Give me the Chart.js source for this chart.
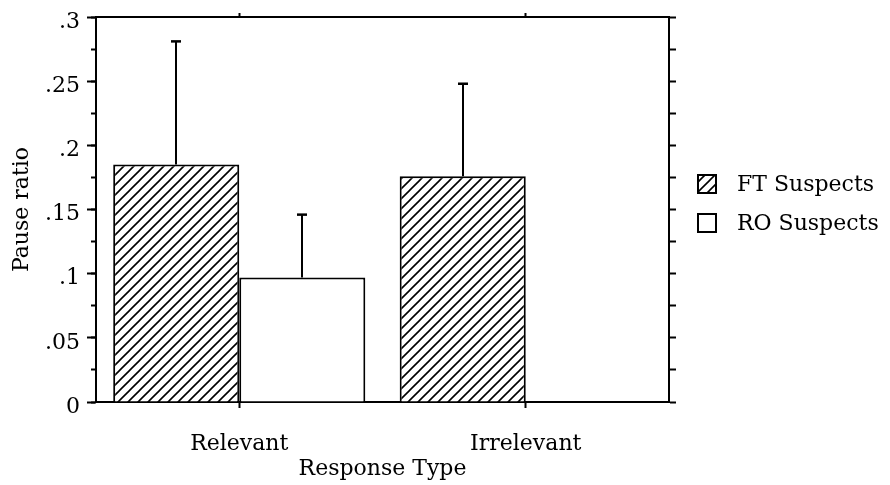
<!DOCTYPE html>
<html>
<head>
<meta charset="utf-8">
<script src="https://cdn.jsdelivr.net/npm/chart.js@4/dist/chart.umd.min.js"></script>
<style>
  html, body { margin: 0; padding: 0; background: #fff; }
</style>
</head>
<body>
<canvas id="c" width="890" height="485"></canvas>
<script>
// Mean pause ratio per response type, with upward standard-error whiskers
const categories = ['Relevant', 'Irrelevant'];
const seriesNames = ['FT Suspects', 'RO Suspects'];
const ftMeans = [0.185, 0.176];
const roMeans = [0.097, null];
const ftErrors = [0.096, 0.072];
const roErrors = [0.049, null];
const yTickLabels = ['0', '.05', '.1', '.15', '.2', '.25', '.3'];

const FONT = '"DejaVu Serif", "Liberation Serif", serif';
const canvas = document.getElementById('c');
const ctx = canvas.getContext('2d');

// Diagonal "/" hatch fill
function makeHatch() {
  const s = 10;
  const t = document.createElement('canvas');
  t.width = s; t.height = s;
  const g = t.getContext('2d');
  g.fillStyle = '#fff';
  g.fillRect(0, 0, s, s);
  g.strokeStyle = '#000';
  g.lineWidth = 1.6;
  g.beginPath();
  g.moveTo(-2, s + 2); g.lineTo(s + 2, -2);
  g.moveTo(-2, 2); g.lineTo(2, -2);
  g.moveTo(s - 2, s + 2); g.lineTo(s + 2, s - 2);
  g.stroke();
  return ctx.createPattern(t, 'repeat');
}
const hatch = makeHatch();

const errorsByDataset = [ftErrors, roErrors];

// Upward whiskers with a short cap
const errorBars = {
  id: 'errorBars',
  afterDatasetsDraw(chart) {
    const c = chart.ctx;
    const yScale = chart.scales.y;
    c.save();
    c.strokeStyle = '#000';
    chart.data.datasets.forEach((ds, i) => {
      const meta = chart.getDatasetMeta(i);
      meta.data.forEach((bar, j) => {
        const v = ds.data[j];
        const e = errorsByDataset[i][j];
        if (v == null || e == null) return;
        const x = Math.round(bar.x);
        const yTop = yScale.getPixelForValue(v + e);
        c.lineWidth = 2;
        c.beginPath();
        c.moveTo(x, bar.y);
        c.lineTo(x, yTop);
        c.stroke();
        c.lineWidth = 2.5;
        c.beginPath();
        c.moveTo(x - 5, yTop);
        c.lineTo(x + 5, yTop);
        c.stroke();
      });
    });
    c.restore();
  }
};

// Legend to the right of the plot
const sideLegend = {
  id: 'sideLegend',
  afterDraw(chart) {
    const c = chart.ctx;
    c.save();
    c.font = '22px ' + FONT;
    c.textBaseline = 'middle';
    chart.data.datasets.forEach((ds, i) => {
      const bx = 698, by = 175 + i * 39, sz = 18;
      c.fillStyle = ds.backgroundColor;
      c.fillRect(bx, by, sz, sz);
      c.strokeStyle = '#000';
      c.lineWidth = 2;
      c.strokeRect(bx, by, sz, sz);
      c.fillStyle = '#000';
      c.fillText(ds.label, 737, by + sz / 2 + 1);
    });
    c.restore();
  }
};

const axisFont = { family: FONT, size: 22 };
const border = { display: true, color: '#000', width: 2 };

new Chart(ctx, {
  type: 'bar',
  data: {
    labels: categories,
    datasets: [
      { label: seriesNames[0], data: ftMeans, backgroundColor: hatch,
        borderColor: '#000', borderWidth: 2 },
      { label: seriesNames[1], data: roMeans, backgroundColor: '#fff',
        borderColor: '#000', borderWidth: 2 }
    ]
  },
  options: {
    responsive: false,
    animation: false,
    devicePixelRatio: 1,
    layout: { padding: { left: 0, right: 221, top: 17, bottom: 0 } },
    datasets: { bar: { barPercentage: 1.0, categoryPercentage: 0.88 } },
    plugins: { legend: { display: false }, tooltip: { enabled: false } },
    scales: {
      x: {
        type: 'category',
        position: 'bottom',
        offset: true,
        border: border,
        grid: { drawOnChartArea: false, offset: false, tickLength: 6, color: '#000', tickWidth: 2 },
        ticks: { color: '#000', font: axisFont, padding: 23 },
        title: { display: true, text: 'Response Type', color: '#000', font: axisFont,
                 padding: { top: 0, bottom: 3 } },
        afterFit(s) { s.height = 83; s.paddingLeft = 0; s.paddingRight = 0; }
      },
      xTop: {
        type: 'category',
        position: 'top',
        offset: true,
        border: border,
        grid: { drawOnChartArea: false, offset: false, tickLength: 4, color: '#000', tickWidth: 2 },
        ticks: { display: false },
        afterFit(s) { s.height = 0; s.paddingLeft = 0; s.paddingRight = 0; }
      },
      y: {
        position: 'left',
        weight: 10,
        min: 0, max: 0.3,
        border: border,
        grid: { drawOnChartArea: false, tickLength: 9, color: '#000', tickWidth: 2 },
        ticks: {
          stepSize: 0.05,
          color: '#000',
          font: axisFont,
          padding: 7,
          labelOffset: 5,
          callback: (v, i) => yTickLabels[i]
        },
        title: { display: true, text: 'Pause ratio', color: '#000', font: axisFont,
                 padding: { top: 9, bottom: 0 } },
        afterFit(s) { s.width = 96; s.paddingTop = 0; s.paddingBottom = 0; }
      },
      yMinor: {
        position: 'left',
        weight: 0,
        min: 0, max: 0.3,
        border: { display: false },
        grid: { drawOnChartArea: false, tickLength: 5, color: '#000', tickWidth: 2 },
        ticks: { display: false, stepSize: 0.025 },
        afterFit(s) { s.width = 0; s.paddingTop = 0; s.paddingBottom = 0; }
      },
      yRight: {
        position: 'right',
        min: 0, max: 0.3,
        border: border,
        grid: { drawOnChartArea: false, tickLength: 7, color: '#000', tickWidth: 2 },
        ticks: { display: false, stepSize: 0.025 },
        afterFit(s) { s.width = 0; s.paddingTop = 0; s.paddingBottom = 0; }
      }
    }
  },
  plugins: [errorBars, sideLegend]
});
</script>
</body>
</html>
